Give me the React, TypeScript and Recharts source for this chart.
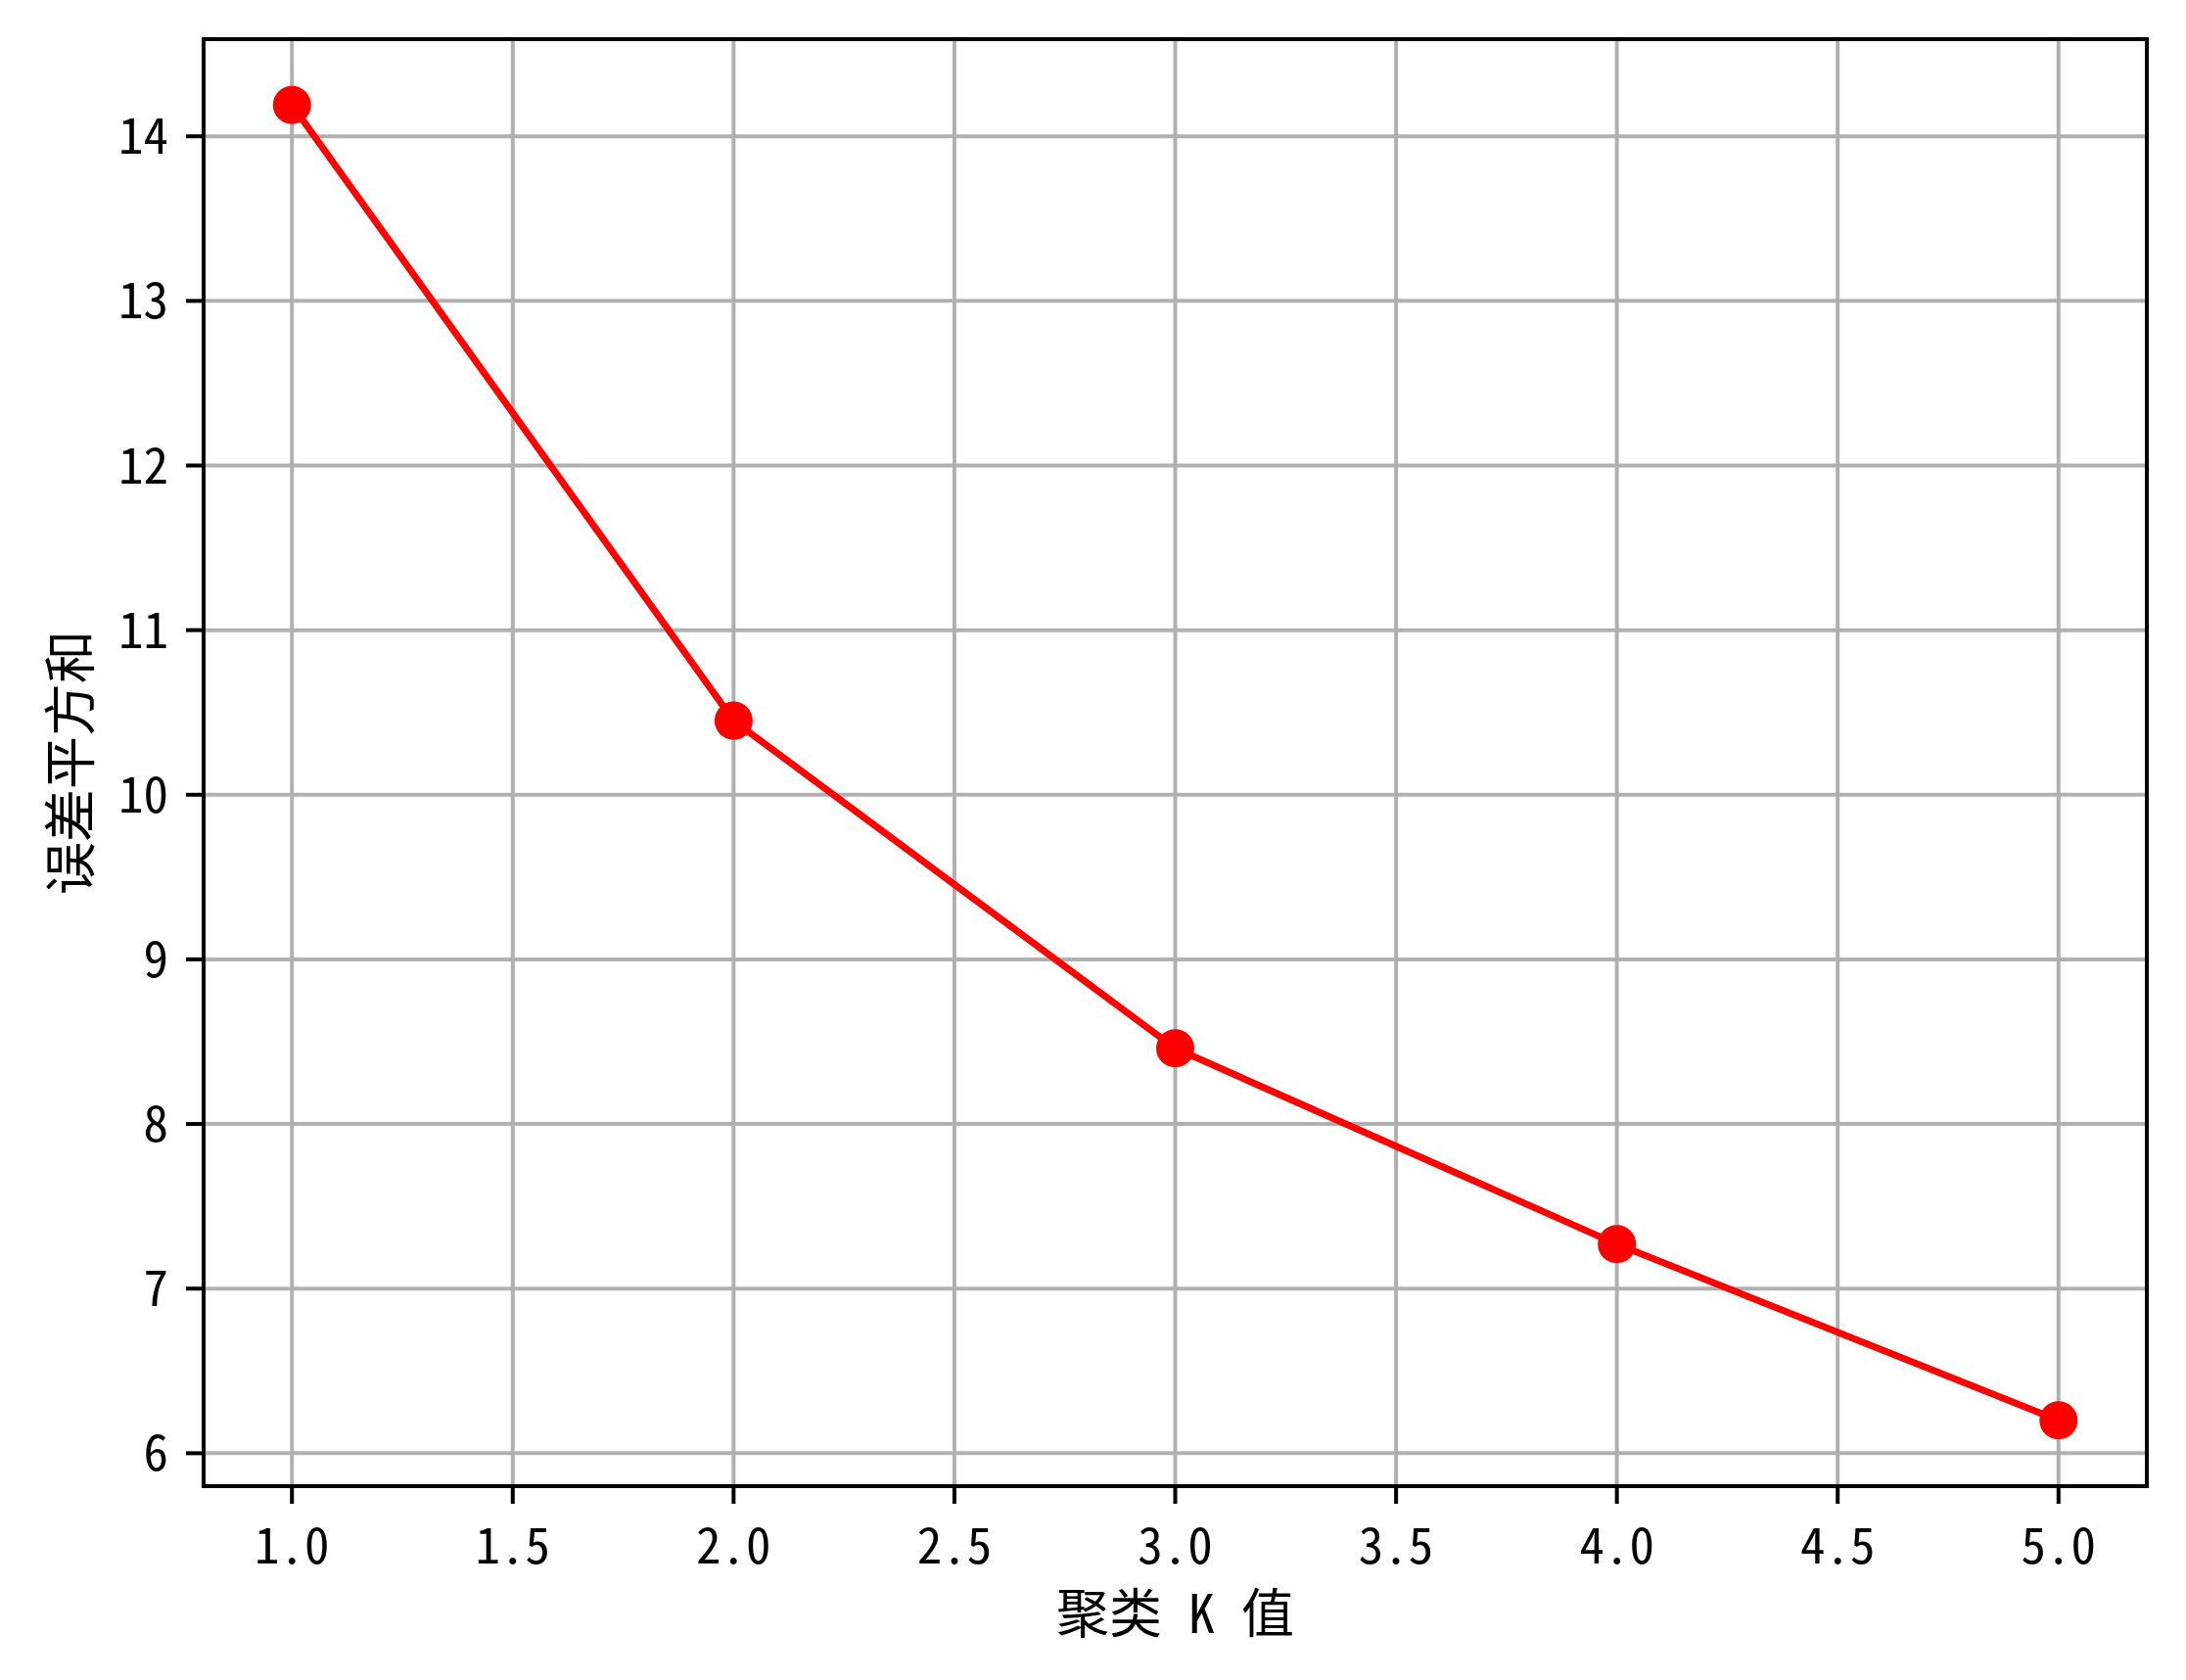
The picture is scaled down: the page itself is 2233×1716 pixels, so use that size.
import React from 'react';
import { LineChart, Line, XAxis, YAxis, CartesianGrid, ReferenceArea, Label } from 'recharts';

const kValues = [1, 2, 3, 4, 5];
const sseValues = [14.19, 10.45, 8.46, 7.27, 6.2];
const xTicks = [1.0, 1.5, 2.0, 2.5, 3.0, 3.5, 4.0, 4.5, 5.0];
const yTicks = [6, 7, 8, 9, 10, 11, 12, 13, 14];
const xDomain: [number, number] = [0.8, 5.2];
const yDomain: [number, number] = [5.8, 14.59];
const xLabel = '聚类 K 值';
const yLabel = '误差平方和';

const data = kValues.map((k, i) => ({ k, sse: sseValues[i] }));

const FONT = "'Noto Sans Mono CJK SC', 'Noto Sans CJK SC', 'DejaVu Sans Mono', sans-serif";

export default function App() {
  return (
    <div style={{ position: 'absolute', left: 0, top: 0, width: 2233, height: 1716, background: '#fff' }}>
      <LineChart width={2233} height={1716} data={data} margin={{ top: 40, right: 40, left: 0, bottom: 0 }}>
        <CartesianGrid stroke="#b0b0b0" strokeWidth={4} />
        <XAxis
          dataKey="k"
          type="number"
          domain={xDomain}
          ticks={xTicks}
          allowDataOverflow
          tickFormatter={(v: number) => v.toFixed(1)}
          height={198}
          axisLine={false}
          tickLine={{ stroke: '#000', strokeWidth: 4 }}
          tickSize={18}
          tickMargin={25}
          tick={{ fill: '#000', fontSize: 51, fontFamily: FONT }}
          label={
            <Label
              content={(props: any) => {
                const vb = props.viewBox || {};
                return (
                  <text x={vb.x + vb.width / 2} y={vb.y + 150} textAnchor="middle" fill="#000" fontSize={54} fontFamily={FONT}>
                    {xLabel}
                  </text>
                );
              }}
            />
          }
        />
        <YAxis
          type="number"
          domain={yDomain}
          ticks={yTicks}
          allowDataOverflow
          width={208}
          axisLine={false}
          tickLine={{ stroke: '#000', strokeWidth: 4 }}
          tickSize={18}
          tickMargin={18}
          tick={{ fill: '#000', fontSize: 51, fontFamily: FONT }}
          label={
            <Label
              content={(props: any) => {
                const vb = props.viewBox || {};
                const cx = vb.x + 68;
                const cy = vb.y + vb.height / 2;
                return (
                  <text x={cx} y={cy} transform={`rotate(-90, ${cx}, ${cy})`} textAnchor="middle" dominantBaseline="central" fill="#000" fontSize={54} fontFamily={FONT}>
                    {yLabel}
                  </text>
                );
              }}
            />
          }
        />
        <ReferenceArea x1={xDomain[0]} x2={xDomain[1]} y1={yDomain[0]} y2={yDomain[1]} fill="none" stroke="#000" strokeWidth={4} ifOverflow="visible" />
        <Line
          type="linear"
          dataKey="sse"
          stroke="#ff0000"
          strokeWidth={7}
          dot={{ r: 19.5, fill: '#ff0000', stroke: 'none' }}
          activeDot={false}
          isAnimationActive={false}
        />
      </LineChart>
    </div>
  );
}
